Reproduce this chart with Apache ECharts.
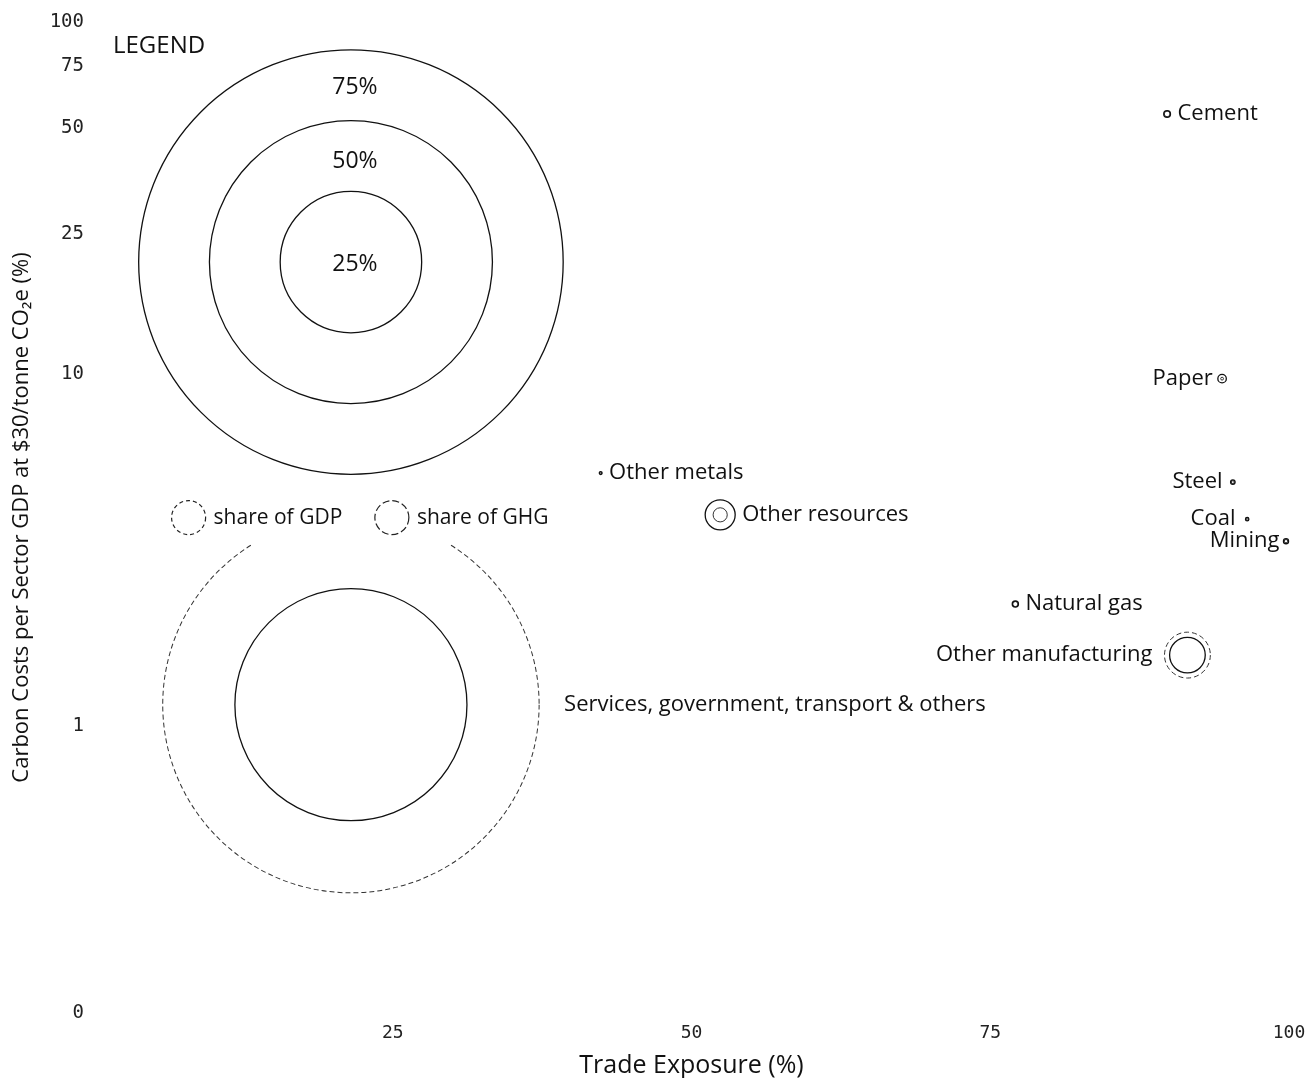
<!DOCTYPE html>
<html><head><meta charset="utf-8">
<script src="https://cdn.jsdelivr.net/npm/echarts@6/dist/echarts.min.js"></script>
<style>html,body{margin:0;padding:0;background:#fff}#c{width:1315px;height:1078px}</style>
</head><body><div id="c"></div>
<script>
// ---- data ----
const sectors = ['Cement','Paper','Steel','Coal','Mining','Natural gas','Other manufacturing','Other metals','Other resources','Services, government, transport & others'];
const tradeExposure = [89.8, 94.4, 95.3, 96.5, 99.75, 77.1, 91.5, 42.4, 52.4, 21.5];
const carbonCost    = [54.8, 9.7, 4.93, 3.87, 3.35, 2.22, 1.59, 5.23, 3.98, 1.15];
const gdpShare      = [1.0, 0.5, 0.5, 0.4, 0.6, 0.9, 8.1, 0.4, 2.5, 66.5];
const ghgShare      = [1.2, 1.5, 0.8, 0.6, 0.9, 1.1, 6.3, 0.5, 5.3, 41];
const scaleShares = [75, 50, 25];
const scaleLabels = ['75%', '50%', '25%'];
const scaleX = 21.5, scaleY = 20.8;
const xTicks = [25, 50, 75, 100];
const yTicks = [0.1531, 1, 10, 25, 50, 75, 100];
const yTickLabels = ['0', '1', '10', '25', '50', '75', '100'];

// ---- styling ----
const DIAM_PER_PCT = 5.66;
const FONT = '"Open Sans", "Noto Sans", sans-serif';
const MONO = '"DejaVu Sans Mono", monospace';
const labelSide = {
  'Cement': ['right', 7], 'Paper': ['left', 5], 'Steel': ['left', 8], 'Coal': ['left', 10],
  'Mining': ['left', 4], 'Natural gas': ['right', 7], 'Other manufacturing': ['left', 12],
  'Other metals': ['right', 7], 'Other resources': ['right', 7],
  'Services, government, transport & others': ['right', 25]
};
const scaleLabelOffset = { '75%': [4, -175], '50%': [4, -101], '25%': [4, 2] };

const dashFor = d => (d * DIAM_PER_PCT < 20 ? 'solid' : [5, 3]);
const gdpData = sectors.map((n, i) => ({
  name: n, value: [tradeExposure[i], carbonCost[i], gdpShare[i]],
  itemStyle: { borderType: dashFor(gdpShare[i]) }
}));
const ghgData = sectors.map((n, i) => ({ name: n, value: [tradeExposure[i], carbonCost[i], ghgShare[i]] }));
const labelData = sectors.map((n, i) => ({
  name: n,
  value: [tradeExposure[i], carbonCost[i], Math.max(gdpShare[i], ghgShare[i])],
  label: { position: labelSide[n][0], distance: labelSide[n][1] }
}));
const scaleData = scaleShares.map((s, i) => ({
  name: scaleLabels[i], value: [scaleX, scaleY, s],
  label: { offset: scaleLabelOffset[scaleLabels[i]] }
}));

const chart = echarts.init(document.getElementById('c'), null, { renderer: 'canvas' });
chart.setOption({
  backgroundColor: '#ffffff',
  animation: false,
  title: { text: 'LEGEND', left: 113, top: 34, padding: 0,
    textStyle: { fontFamily: FONT, fontSize: 24, fontWeight: 'normal', color: '#111' } },
  legend: {
    left: 161, top: 490, padding: [10, 10, 9, 10], z: 10,
    backgroundColor: '#ffffff',
    itemWidth: 34, itemHeight: 34, itemGap: 32, selectedMode: false,
    textStyle: { fontFamily: FONT, fontSize: 21, color: '#111', padding: [0, 0, 0, 3] },
    data: [
      { name: 'share of GDP', icon: 'circle', itemStyle: { color: 'transparent', borderColor: '#222', borderWidth: 1.2, borderType: [4, 3] } },
      { name: 'share of GHG', icon: 'circle', itemStyle: { color: 'transparent', borderColor: '#222', borderWidth: 1.2, borderType: [7, 3] } }
    ]
  },
  grid: { left: 94, right: 26, top: 22, bottom: 65, outerBoundsMode: 'none', containLabel: false },
  xAxis: {
    type: 'value', min: 0, max: 100, interval: 25,
    name: 'Trade Exposure (%)', nameLocation: 'middle', nameGap: 40,
    nameTextStyle: { fontFamily: FONT, fontSize: 25, color: '#111' },
    axisLine: { show: false }, axisTick: { show: false }, splitLine: { show: false },
    axisLabel: { customValues: xTicks, margin: 11, fontFamily: MONO, fontSize: 18, color: '#222' }
  },
  yAxis: {
    type: 'log', logBase: 10, min: 0.153, max: 100,
    name: 'Carbon Costs per Sector GDP at $30/tonne CO\u2082e (%)', nameLocation: 'middle', nameGap: 61,
    nameTextStyle: { fontFamily: FONT, fontSize: 22, color: '#111' },
    axisLine: { show: false }, axisTick: { show: false }, splitLine: { show: false },
    axisLabel: {
      customValues: yTicks, margin: 10, fontFamily: MONO, fontSize: 19, color: '#222',
      padding: [5, 0, 0, 0],
      formatter: function (v) {
        let best = 0;
        for (let i = 0; i < yTicks.length; i++) if (Math.abs(Math.log(yTicks[i]) - Math.log(v)) < Math.abs(Math.log(yTicks[best]) - Math.log(v))) best = i;
        return yTickLabels[best];
      }
    }
  },
  series: [
    {
      name: 'scale', type: 'scatter', silent: true, z: 2,
      symbol: 'circle', symbolSize: v => v[2] * DIAM_PER_PCT,
      itemStyle: { color: 'transparent', borderColor: '#111', borderWidth: 1.3, opacity: 1 },
      label: { show: true, position: 'inside', formatter: '{b}', fontFamily: FONT, fontSize: 23, color: '#111' },
      data: scaleData
    },
    {
      name: 'share of GDP', type: 'scatter', silent: true, z: 3,
      symbol: 'circle', symbolSize: v => v[2] * DIAM_PER_PCT,
      itemStyle: { color: 'transparent', borderColor: '#333', borderWidth: 1, opacity: 1 },
      data: gdpData
    },
    {
      name: 'share of GHG', type: 'scatter', silent: true, z: 4,
      symbol: 'circle', symbolSize: v => v[2] * DIAM_PER_PCT,
      itemStyle: { color: 'transparent', borderColor: '#111', borderWidth: 1.3, opacity: 1 },
      data: ghgData
    },
    {
      name: 'labels', type: 'scatter', silent: true, z: 5,
      symbol: 'circle', symbolSize: v => v[2] * DIAM_PER_PCT,
      itemStyle: { color: 'transparent', borderWidth: 0, opacity: 1 },
      label: { show: true, formatter: '{b}', fontFamily: FONT, fontSize: 22, color: '#111' },
      data: labelData
    }
  ]
});
</script>
</body></html>
